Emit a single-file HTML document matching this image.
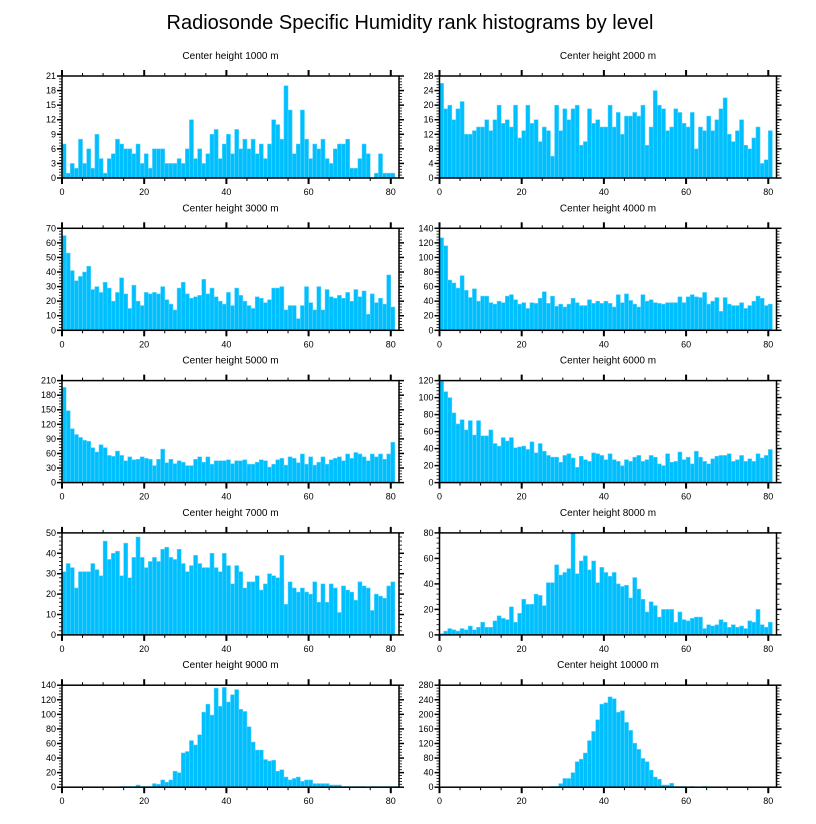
<!DOCTYPE html>
<html><head><meta charset="utf-8"><style>
body{margin:0;background:#fff;}
svg{display:block;font-family:"Liberation Sans",sans-serif;}
</style></head><body>
<svg id="chart" width="816" height="824" viewBox="0 0 816 824" xmlns="http://www.w3.org/2000/svg">
<text x="410" y="29" text-anchor="middle" font-size="20">Radiosonde Specific Humidity rank histograms by level</text>
</svg>
<script>
const titles=["Center height 1000 m","Center height 2000 m","Center height 3000 m","Center height 4000 m","Center height 5000 m","Center height 6000 m","Center height 7000 m","Center height 8000 m","Center height 9000 m","Center height 10000 m"];
const yMax=[21,28,70,140,210,120,50,80,140,280];
const yStep=[3,4,10,20,30,20,10,20,20,40];
const xTicks=[0,20,40,60,80];
const h1000=[7,1,3,2,8,3,6,2,9,4,1,4,5,8,7,6,6,5,7,3,5,2,6,6,6,3,3,3,4,3,6,12,4,6,3,5,9,10,4,7,9,5,10,6,8,6,8,5,7,4,7,12,11,8,19,14,5,7,14,8,4,7,6,8,4,3,6,7,7,8,2,2,4,7,5,0,1,5,1,1,1,0];
const h2000=[26,19,20,16,19,21,12,12,13,14,14,16,13,16,20,15,16,14,20,11,13,20,15,16,10,14,13,6,20,13,19,16,19,20,9,10,19,15,16,14,14,20,14,18,12,17,17,18,17,20,9,14,24,20,19,13,14,19,18,15,14,18,8,14,13,17,13,16,19,22,12,10,13,16,9,8,11,14,4,5,13];
const h3000=[65,53,41,34,37,40,44,28,30,26,33,29,20,26,36,25,15,31,20,17,26,25,26,25,30,21,18,14,29,33,25,22,23,24,35,25,29,23,20,18,26,17,29,24,20,17,15,23,22,19,21,29,29,30,14,17,17,8,17,30,19,14,30,14,28,23,22,24,22,26,20,28,23,27,11,25,19,22,18,38,16];
const h4000=[127,116,69,65,58,75,55,45,57,40,47,47,38,36,40,38,47,49,42,36,38,30,38,37,44,53,37,47,33,36,32,36,44,38,34,34,42,37,40,37,40,37,32,49,38,50,41,36,32,49,40,42,38,37,36,38,38,38,46,38,46,49,46,45,52,36,40,45,26,45,36,34,34,38,30,34,40,47,44,34,36];
const h5000=[196,148,111,99,93,87,85,72,63,78,72,56,54,65,56,45,53,47,48,53,50,48,35,48,69,41,48,39,45,42,35,35,48,53,42,53,38,45,45,45,47,39,45,45,47,38,38,42,47,45,32,38,47,50,36,53,50,41,59,38,53,36,42,53,38,47,50,53,45,59,50,62,59,53,45,59,53,59,48,59,83];
const h6000=[119,107,100,82,69,74,62,73,56,73,55,55,62,46,43,53,49,53,41,42,43,39,48,35,46,37,32,30,30,24,32,34,29,18,31,27,25,35,34,32,27,34,27,25,20,27,25,30,32,25,27,32,30,22,20,34,24,25,36,27,30,22,37,30,25,22,28,31,32,32,34,25,27,32,25,28,25,34,29,32,39];
const h7000=[31,35,33,23,31,31,31,35,32,29,46,37,40,41,29,45,28,38,48,38,33,36,38,36,42,43,38,37,42,35,31,34,39,35,33,33,40,33,31,40,34,25,34,31,23,26,26,29,22,25,30,29,28,39,15,26,23,21,23,21,20,26,16,25,16,25,23,11,24,22,21,17,26,24,23,12,20,19,18,24,26];
const h8000=[1,3,5,4,3,5,4,7,4,6,10,6,6,11,15,13,12,22,10,17,28,24,24,32,31,23,41,41,55,47,49,52,80,48,58,62,51,58,41,53,49,46,49,40,38,39,29,45,36,28,18,26,23,14,20,20,20,10,18,12,11,13,14,14,5,8,7,8,12,10,6,8,6,7,5,11,10,20,8,6,10];
const h9000=[0,0,0,0,0,0,0,0,0,0,0,0,0,0,1,1,1,1,3,1,1,1,5,4,10,7,10,22,20,47,49,64,58,72,103,114,99,136,111,137,117,127,134,107,104,83,62,51,51,38,36,37,22,24,14,10,12,14,8,10,10,5,5,5,5,3,3,3,1,1,1,1,1,1,0,1,1,1,1,1,1,1];
const h10000=[0,0,0,0,0,0,0,0,0,0,0,0,0,0,0,0,0,0,0,0,0,0,0,0,0,0,1,2,2,10,24,24,40,70,77,94,128,153,185,228,232,248,243,206,210,178,156,121,104,79,70,47,28,22,6,6,11,2,2,2,1,2,1,1,2,1,1,1,0,0,0,0,0,0,0,1,0,0,0,0,0,0];
const series=[h1000,h2000,h3000,h4000,h5000,h6000,h7000,h8000,h9000,h10000];
const NS="http://www.w3.org/2000/svg";
const svg=document.getElementById('chart');
const XMAX=82, PW=337, PH=102;
function mk(tag,attrs,parent){const e=document.createElementNS(NS,tag);for(const k in attrs)e.setAttribute(k,attrs[k]);parent.appendChild(e);return e;}
for(let p=0;p<10;p++){
  const col=p%2,row=Math.floor(p/2);
  const L=col?439.5:62, T=76+row*152.3, B=T+PH, R=L+PW;
  const xs=v=>L+v/XMAX*PW;
  const ys=v=>B-v/yMax[p]*PH;
  const g=mk('g',{},svg);
  
  
  const t=mk('text',{x:(L+R)/2,y:T-17,'text-anchor':'middle','font-size':'10'},g);
  t.textContent=titles[p];
  
  
  const d=series[p];
  for(let i=0;i<d.length;i++){
    if(d[i]<=0) continue;
    const y=ys(Math.min(d[i],yMax[p]));
    const r=mk('rect',{x:xs(i),y:y,width:xs(i+1)-xs(i),height:B-y,fill:'#00bfff',stroke:'#5fd6ff','stroke-width':'0.5'},g);
    
    
  }
  const fr=mk('rect',{x:L,y:T,width:PW,height:PH,fill:'none',stroke:'#000','stroke-width':'1.5'},g);
  
  
  // x ticks
  for(let v=0;v<=XMAX;v+=5){
    const x=xs(v), maj=v%20===0, len=maj?6:3;
    mk('line',{x1:x,x2:x,y1:B,y2:B+len,stroke:'#000','stroke-width':maj?2:1},g);
    mk('line',{x1:x,x2:x,y1:T,y2:T-len,stroke:'#000','stroke-width':maj?2:1},g);
  }
  xTicks.forEach(v=>{
    const tl=mk('text',{x:xs(v),y:B+17,'text-anchor':'middle','font-size':'9'},g);
    tl.textContent=v;
    
    
  });
  // y ticks
  const minorStep=yStep[p]/5;
  for(let k=0;k*minorStep<=yMax[p]+1e-9;k++){
    const v=k*minorStep, y=ys(v), maj=k%5===0, len=maj?5:3;
    mk('line',{x1:L,x2:L-len,y1:y,y2:y,stroke:'#000','stroke-width':maj?1.5:0.8},g);
    mk('line',{x1:R,x2:R+len,y1:y,y2:y,stroke:'#000','stroke-width':maj?1.5:0.8},g);
  }
  for(let v=0;v<=yMax[p];v+=yStep[p]){
    const tl=mk('text',{x:L-6,y:ys(v)+3,'text-anchor':'end','font-size':'9'},g);
    tl.textContent=v;
    
    
  }
}
</script>
</body></html>
